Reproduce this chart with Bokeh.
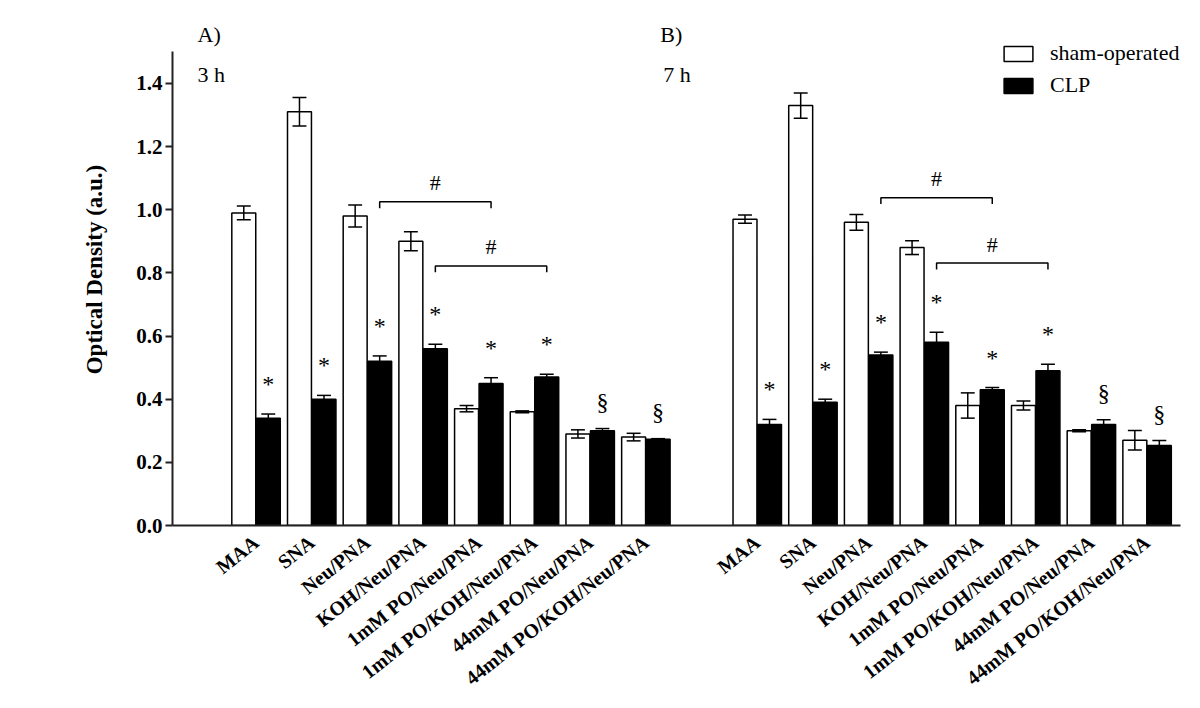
import numpy as np
from bokeh.plotting import figure
from bokeh.models import (Range1d, FixedTicker, PrintfTickFormatter, Label,
                          Legend, LegendItem)
from bokeh.core.properties import value
from bokeh.embed import file_html
from bokeh.resources import INLINE

# ---------------- data ----------------
categories = ["MAA", "SNA", "Neu/PNA", "KOH/Neu/PNA", "1mM PO/Neu/PNA",
              "1mM PO/KOH/Neu/PNA", "44mM PO/Neu/PNA", "44mM PO/KOH/Neu/PNA"]
panel_titles = ["A)", "B)"]
time_labels = ["3 h", "7 h"]
series_names = ["sham-operated", "CLP"]

sham_3h = [0.99, 1.31, 0.98, 0.90, 0.37, 0.36, 0.29, 0.28]
sham_3h_sem = [0.022, 0.045, 0.035, 0.030, 0.010, 0.003, 0.013, 0.012]
clp_3h = [0.34, 0.40, 0.52, 0.56, 0.45, 0.47, 0.30, 0.273]
clp_3h_sem = [0.013, 0.012, 0.017, 0.014, 0.018, 0.009, 0.007, 0.002]

sham_7h = [0.97, 1.33, 0.96, 0.88, 0.38, 0.38, 0.30, 0.27]
sham_7h_sem = [0.013, 0.040, 0.025, 0.022, 0.040, 0.014, 0.003, 0.031]
clp_7h = [0.32, 0.39, 0.54, 0.58, 0.43, 0.49, 0.32, 0.253]
clp_7h_sem = [0.016, 0.010, 0.009, 0.032, 0.007, 0.021, 0.015, 0.016]

sig_3h = ["*", "*", "*", "*", "*", "*", "§", "§"]
sig_7h = ["*", "*", "*", "*", "*", "*", "§", "§"]

# comparisons marked with "#" (pairs of category indices, CLP bars)
hash_pairs = [(2, 4), (3, 5)]

y_ticks = [0.0, 0.2, 0.4, 0.6, 0.8, 1.0, 1.2, 1.4]

# ---------------- layout / style ----------------
SERIF = "Liberation Serif"
panel_offsets = [1.5, 10.5]
bar_w = 0.43
bar_shift = 0.22
cap_half = 0.125
hash_heights = [[1.025, 0.822], [1.038, 0.831]]
panel_label_x = [0.45, 8.76]

p = figure(width=1192, height=700, output_backend="svg", toolbar_location=None,
           x_range=Range1d(0, 18.1), y_range=Range1d(0, 1.6214),
           min_border_left=172, min_border_right=12,
           min_border_top=13, min_border_bottom=174)
p.outline_line_color = None
p.xgrid.visible = False
p.ygrid.visible = False
p.background_fill_color = "white"

panels = [
    (sham_3h, sham_3h_sem, clp_3h, clp_3h_sem, sig_3h),
    (sham_7h, sham_7h_sem, clp_7h, clp_7h_sem, sig_7h),
]

all_ticks = []
overrides = {}
legend_renderers = []
for k, (sh, shs, cl, cls, sig) in enumerate(panels):
    centers = panel_offsets[k] + np.arange(len(categories))
    for c, name in zip(centers, categories):
        all_ticks.append(float(c))
        overrides[float(c)] = name
    xs = centers - bar_shift
    xc = centers + bar_shift
    sh = np.array(sh); shs = np.array(shs)
    cl = np.array(cl); cls = np.array(cls)

    r_sham = p.vbar(x=xs, top=sh, bottom=0, width=bar_w, fill_color="white",
                    line_color="black", line_width=1.5)
    r_clp = p.vbar(x=xc, top=cl, bottom=0, width=bar_w, fill_color="black",
                   line_color="black", line_width=1.5)
    if k == 0:
        legend_renderers = [r_sham, r_clp]

    for x, m, s in ((xs, sh, shs), (xc, cl, cls)):
        p.segment(x0=x, y0=m - s, x1=x, y1=m + s, line_color="black", line_width=1.5)
        p.segment(x0=x - cap_half, y0=m + s, x1=x + cap_half, y1=m + s,
                  line_color="black", line_width=1.5)
        p.segment(x0=x - cap_half, y0=m - s, x1=x + cap_half, y1=m - s,
                  line_color="black", line_width=1.5)

    sig_off = {"*": 0.095, "§": 0.085}
    p.text(x=xc, y=cl + cls + np.array([sig_off[t] for t in sig]), text=sig,
           text_font=value(SERIF), text_font_size="24px",
           text_align="center", text_baseline="alphabetic", text_color="black")

    for (i, j), h in zip(hash_pairs, hash_heights[k]):
        x1, x2 = xc[i], xc[j]
        p.line(x=[x1, x1, x2, x2], y=[h - 0.02, h, h, h - 0.02],
               line_color="black", line_width=1.5)
        p.text(x=[(x1 + x2) / 2], y=[h + 0.06], text=["#"],
               text_font=value(SERIF), text_font_size="22px",
               text_align="center", text_baseline="alphabetic", text_color="black")

    p.add_layout(Label(x=panel_label_x[k], y=1.555, text=panel_titles[k],
                       text_font=SERIF, text_font_size="22px",
                       text_baseline="alphabetic", text_color="black"))
    p.add_layout(Label(x=panel_label_x[k] + (0.0 if k == 0 else 0.05), y=1.429,
                       text=time_labels[k], text_font=SERIF, text_font_size="22px",
                       text_baseline="alphabetic", text_color="black"))

# ---------------- axes ----------------
yax = p.yaxis[0]
yax.ticker = FixedTicker(ticks=y_ticks)
yax.bounds = (0, 1.5)
yax.formatter = PrintfTickFormatter(format="%.1f")
yax.major_label_text_font = SERIF
yax.major_label_text_font_style = "bold"
yax.major_label_text_font_size = "21px"
yax.major_label_text_color = "black"
yax.major_tick_out = 7
yax.major_tick_in = 0
yax.major_tick_line_width = 2
yax.major_tick_line_color = "#222222"
yax.minor_tick_line_color = None
yax.axis_line_width = 2
yax.axis_line_color = "#222222"
yax.major_label_standoff = 3
yax.axis_label = "Optical Density (a.u.)"
yax.axis_label_text_font = SERIF
yax.axis_label_text_font_style = "bold"
yax.axis_label_text_font_size = "23px"
yax.axis_label_text_color = "black"
yax.axis_label_standoff = 26

xax = p.xaxis[0]
xax.ticker = FixedTicker(ticks=all_ticks)
xax.major_label_overrides = overrides
xax.major_label_orientation = 0.67
xax.major_label_text_font = SERIF
xax.major_label_text_font_style = "bold"
xax.major_label_text_font_size = "20px"
xax.major_label_text_color = "black"
xax.major_tick_line_color = None
xax.minor_tick_line_color = None
xax.axis_line_width = 2
xax.axis_line_color = "#222222"
xax.major_label_standoff = 8

# ---------------- legend ----------------
legend = Legend(items=[LegendItem(label=series_names[0], renderers=[legend_renderers[0]]),
                       LegendItem(label=series_names[1], renderers=[legend_renderers[1]])],
                location=(828, 427), orientation="vertical",
                glyph_width=36, glyph_height=19, label_height=25, spacing=6,
                padding=0, margin=0, label_standoff=14,
                label_text_font=SERIF, label_text_font_size="22px",
                label_text_color="black",
                border_line_color=None, background_fill_alpha=0)
p.add_layout(legend)

open("out.html", "w").write(file_html(p, INLINE))
